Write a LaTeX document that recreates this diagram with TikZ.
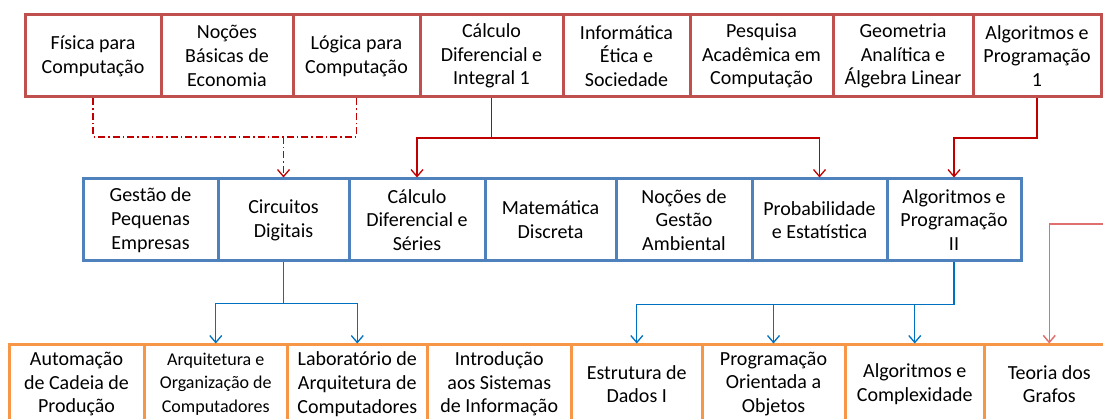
\documentclass[tikz,border=0pt]{standalone}
\usepackage{fontspec}
\setmainfont{Carlito}
\usetikzlibrary{arrows.meta}
\definecolor{topc}{HTML}{C0504D}
\definecolor{midc}{HTML}{4F81BD}
\definecolor{botc}{HTML}{F79646}
\definecolor{redl}{HTML}{C00000}
\definecolor{redlight}{HTML}{E07070}
\definecolor{bluel}{HTML}{0070C0}
\begin{document}
\begin{tikzpicture}[x=1pt,y=-1pt,
  box/.style={draw,line width=3pt,minimum height=82pt,inner sep=0pt,align=center,
    font=\fontsize{20}{23.7}\selectfont,text=black},
  topbox/.style={box,draw=topc},
  midbox/.style={box,draw=midc},
  botbox/.style={box,draw=botc,minimum height=78pt},
  tip/.style={-{Straight Barb[length=7pt,width=12pt]}},
  rconn/.style={draw=redl,line width=1.3pt},
  rconnlight/.style={draw=redlight,line width=1.5pt},
  bconn/.style={draw=bluel,line width=1.3pt},
  dd/.style={draw=redl,line width=1.3pt,dash pattern=on 7pt off 3pt on 1.5pt off 3pt}
]
\useasboundingbox (0,0) rectangle (1103,419);
\clip (0,0) rectangle (1103,419);

% top row
\node[topbox,minimum width=136pt] (t1) at (93,56) {Física para\\Computação};
\node[topbox,minimum width=132pt] (t2) at (227,56) {Noções\\Básicas de\\Economia};
\node[topbox,minimum width=127pt] (t3) at (356.5,56) {Lógica para\\Computação};
\node[topbox,minimum width=143pt] (t4) at (491.5,56) {Cálculo\\Diferencial e\\Integral 1};
\node[topbox,minimum width=127pt] (t5) at (626.5,56) {Informática\\Ética e\\Sociedade};
\node[topbox,minimum width=143pt] (t6) at (761.5,56) {Pesquisa\\Acadêmica em\\Computação};
\node[topbox,minimum width=140pt] (t7) at (903,56) {Geometria\\Analítica e\\Álgebra Linear};
\node[topbox,minimum width=128pt] (t8) at (1037,56) {Algoritmos e\\Programação\\1};

% middle row
\node[midbox,minimum width=135pt] (m1) at (150.5,220) {Gestão de\\Pequenas\\Empresas};
\node[midbox,minimum width=131pt] (m2) at (283.5,220) {Circuitos\\Digitais};
\node[midbox,minimum width=136pt] (m3) at (417,220) {Cálculo\\Diferencial e\\Séries};
\node[midbox,minimum width=131pt] (m4) at (550.5,220) {Matemática\\Discreta};
\node[midbox,minimum width=136pt] (m5) at (684,220) {Noções de\\Gestão\\Ambiental};
\node[midbox,minimum width=135pt] (m6) at (819.5,220) {Probabilidade\\e Estatística};
\node[midbox,minimum width=134pt] (m7) at (954,220) {Algoritmos e\\Programação\\II};

% bottom row
\node[botbox,minimum width=135pt] (b1) at (76.5,384) {Automação\\de Cadeia de\\Produção};
\node[botbox,minimum width=143.5pt,font=\fontsize{18}{23.5}\selectfont] (b2) at (215.75,384) {Arquitetura e\\Organização de\\Computadores};
\node[botbox,minimum width=139.5pt] (b3) at (357.25,384) {Laboratório de\\Arquitetura de\\Computadores};
\node[botbox,minimum width=144.5pt] (b4) at (499.25,384) {Introdução\\aos Sistemas\\de Informação};
\node[botbox,minimum width=130.5pt] (b5) at (636.75,384) {Estrutura de\\Dados I};
\node[botbox,minimum width=143pt] (b6) at (773.5,384) {Programação\\Orientada a\\Objetos};
\node[botbox,minimum width=139.5pt] (b7) at (914.75,384) {Algoritmos e\\Complexidade};
\node[botbox,minimum width=129.5pt] (b8) at (1049.25,384) {Teoria dos\\Grafos};

% red connectors top -> middle
\coordinate (j1) at (491.5,138);
\draw[rconn,tip] (t4.south) -- (j1) -| (m3.north);
\draw[rconn,tip] (j1) -| (m6.north);
\coordinate (j3) at (1037,138);
\draw[rconn,tip] (t8.south) -- (j3) -| (m7.north);

% dash-dot connector
\coordinate (d1) at (93,137);
\coordinate (d2) at (356.5,137);
\coordinate (d3) at (283.5,137);
\draw[dd] (t1.south) -- (d1) -- (d2) -- (t3.south);
\draw[dd,tip] (d3) -- (m2.north);

% blue connectors middle -> bottom
\draw[bconn,tip] (m2.south) -- ++(0,41) coordinate (k1) -| (b2.north);
\draw[bconn,tip] (k1) -| (b3.north);
\draw[bconn,tip] (m7.south) -- ++(0,42) coordinate (k2) -| (b5.north);
\draw[bconn,tip] (k2) -| (b6.north);
\draw[bconn,tip] (k2) -| (b7.north);

% red connector from the right
\coordinate (rin) at (1110,224);
\draw[rconnlight,tip] (rin) -| (b8.north);
\end{tikzpicture}
\end{document}
